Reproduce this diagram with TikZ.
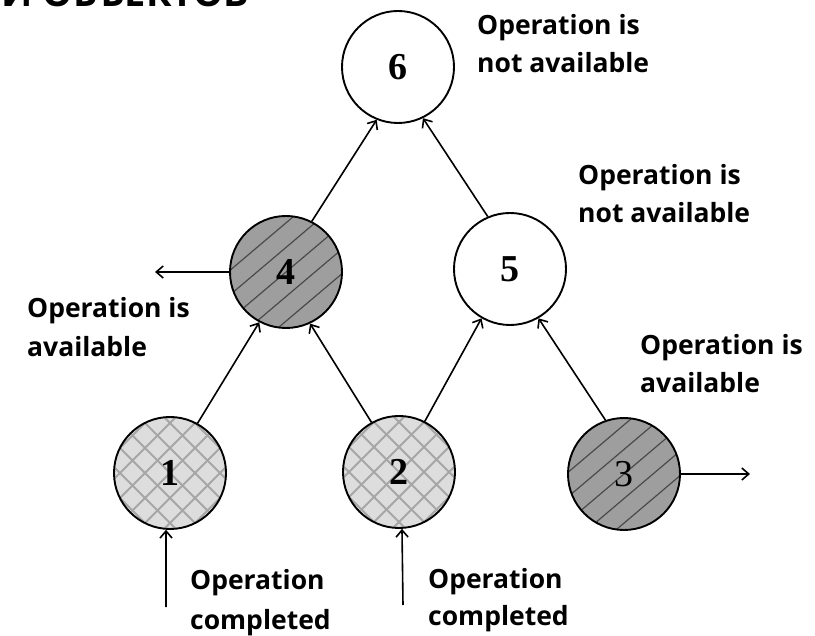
\documentclass[tikz,border=0pt]{standalone}
\usepackage{fontspec}
\usetikzlibrary{arrows.meta,calc}
\newfontfamily\labfont{Open Sans}
\newfontfamily\numfont{Liberation Serif}
\definecolor{lightfill}{HTML}{DDDDDD}
\definecolor{crossline}{HTML}{A6A6A6}
\definecolor{darkfill}{HTML}{9E9E9E}
\definecolor{hatchline}{HTML}{4A4A4A}
\begin{document}
\begin{tikzpicture}[x=1pt,y=-1pt,
  state/.style={circle,draw=black,line width=1.9pt,minimum size=112pt,inner sep=0pt,
    font=\numfont\fontsize{38}{38}\selectfont\bfseries},
  cross/.style={state,fill=lightfill,path picture={
      \foreach \k in {-5,...,5}{
        \draw[crossline,line width=1.9pt] ([xshift=\k*25pt]path picture bounding box.center) +(-80pt,-80pt) -- +(80pt,80pt);
        \draw[crossline,line width=1.9pt] ([xshift=\k*25pt]path picture bounding box.center) +(-80pt,80pt) -- +(80pt,-80pt);
      }}},
  hatch/.style={state,fill=darkfill,path picture={
      \foreach \k in {-4,...,4}{
        \draw[hatchline,line width=1.2pt] ([xshift=\k*29pt]path picture bounding box.center) +(-85pt,-72pt) -- +(85pt,72pt);
      }}},
  plain/.style={state,fill=white},
  conn/.style={line width=1.6pt,-{Straight Barb[length=7pt,width=12pt]}},
  lab/.style={anchor=base west,inner sep=0pt,font=\labfont\fontsize{26.5}{26.5}\selectfont\bfseries}
]
\useasboundingbox (0,0) rectangle (815,636);
\begin{scope}
\clip (0,0) rectangle (815,636);
\node[anchor=base east,inner sep=0pt,font=\labfont\fontsize{38}{38}\selectfont\bfseries] (title) at (249,7) {И ОБЪЕКТОВ};
\end{scope}

\node[plain] (n6) at (398,67) {6};
\node[hatch] (n4) at (286,272) {4};
\node[plain] (n5) at (510,269) {5};
\node[cross] (n1) at (170,473) {1};
\node[cross] (n2) at (399,472) {2};
\node[hatch,font=\numfont\fontsize{38}{38}\selectfont] (n3) at (624,474) {3};

\coordinate (left4) at (155,272);
\coordinate (right3) at (750,474);
\coordinate (in1) at (166,607);
\coordinate (in2) at (403,605);

\draw[conn] (n1.61) -- (n4.242);
\draw[conn] (n2.119) -- (n4.295);
\draw[conn] (n2.63) -- (n5.240);
\draw[conn] (n3.109) -- (n5.300);
\draw[conn] (n4.63) -- (n6.248);
\draw[conn] (n5.113) -- (n6.296);
\draw[conn] (n4.west) -- (left4);
\draw[conn] (n3.east) -- (right3);
\draw[conn] (in1) -- (n1.266);
\draw[conn] (in2) -- (n2.273);

\node[lab] (l1a) at (477,35) {Operation is};
\node[lab] (l1b) at (477,73) {not available};
\node[lab] (l2a) at (578,185) {Operation is};
\node[lab] (l2b) at (578,223) {not available};
\node[lab] (l3a) at (27,318) {Operation is};
\node[lab] (l3b) at (27,357) {available};
\node[lab] (l4a) at (640,355) {Operation is};
\node[lab] (l4b) at (640,393) {available};
\node[lab] (l5a) at (190,590) {Operation};
\node[lab] (l5b) at (190,630) {completed};
\node[lab] (l6a) at (428,588) {Operation};
\node[lab] (l6b) at (428,625) {completed};
\end{tikzpicture}
\end{document}
